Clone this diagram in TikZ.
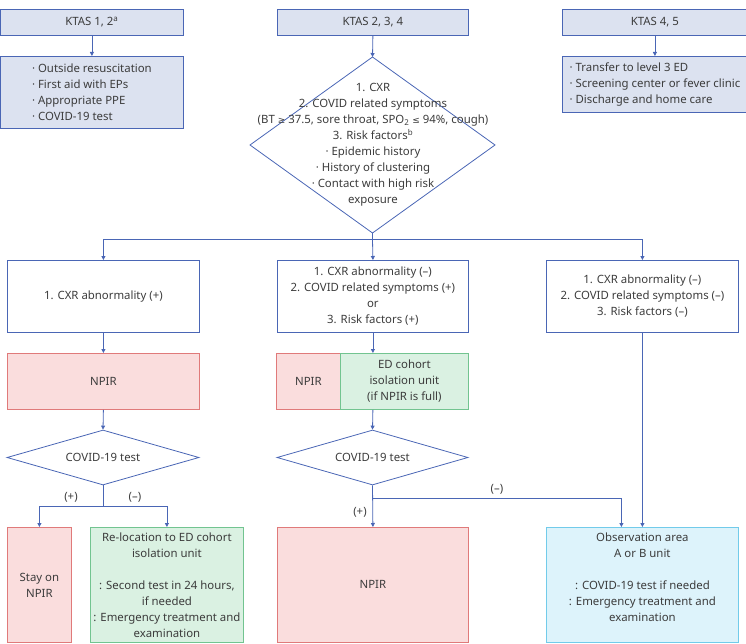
\documentclass[tikz,border=0pt]{standalone}
\usepackage{fontspec}
\setmainfont{Noto Sans}
\newfontfamily\symfont{DejaVu Sans}
\usetikzlibrary{arrows.meta,shapes.geometric}
\definecolor{bline}{HTML}{4A66B5}
\definecolor{topfill}{HTML}{DCE2F0}
\definecolor{pinkfill}{HTML}{FADDDD}
\definecolor{pinkline}{HTML}{E07A7A}
\definecolor{greenfill}{HTML}{DAF1E2}
\definecolor{greenline}{HTML}{72C490}
\definecolor{cyanfill}{HTML}{DDF3FB}
\definecolor{cyanline}{HTML}{72CBEA}
\definecolor{txt}{HTML}{3C3C3C}
\begin{document}
\begin{tikzpicture}[x=1pt,y=-1pt,
  font=\fontsize{11.4}{16}\selectfont, text=txt,
  box/.style={draw=bline, line width=0.8pt, inner sep=0pt, align=center, anchor=north west},
  topbox/.style={box, fill=topfill},
  pinkbox/.style={box, draw=pinkline, fill=pinkfill},
  greenbox/.style={box, draw=greenline, fill=greenfill},
  cyanbox/.style={box, draw=cyanline, fill=cyanfill},
  dia/.style={draw=bline, line width=0.8pt, shape=diamond, aspect=3.5, inner sep=0pt},
  conn/.style={draw=bline, line width=0.8pt},
  arr/.style={conn, -{Triangle[length=4pt,width=4pt]}},
  lbl/.style={inner sep=0pt}]
\useasboundingbox (0,0) rectangle (746,644);

% top row
\node[topbox, minimum width=183pt, minimum height=26pt] (k12) at (0,9) {KTAS 1, 2\textsuperscript{a}};
\node[topbox, minimum width=183pt, minimum height=72pt, align=left] (o12) at (0,56)
  {· Outside resuscitation\\· First aid with EPs\\· Appropriate PPE\\· COVID-19 test};
\node[topbox, minimum width=191pt, minimum height=26pt] (k234) at (277,9) {KTAS 2, 3, 4};
\node[topbox, minimum width=185pt, minimum height=26pt] (k45) at (562,9) {KTAS 4, 5};
\node[topbox, minimum width=185pt, minimum height=56pt, align=left] (o45) at (562,56)
  {· Transfer to level 3 ED\\· Screening center or fever clinic\\· Discharge and home care};

\draw[arr] (k12.south) -- (o12.north);
\draw[arr] (k45.south) -- (o45.north);

% big diamond
\coordinate (dtop) at (372.5,57);
\coordinate (dleft) at (250,145);
\coordinate (dright) at (495,145);
\coordinate (dbot) at (372.5,233);
\draw[conn] (dtop) -- (dright) -- (dbot) -- (dleft) -- cycle;
\node[align=center, inner sep=0pt] (dtext) at (373,145)
  {1. CXR\\2. COVID related symptoms\\(BT {\symfont\small ≥} 37.5, sore throat, SPO\textsubscript{2} {\symfont\small ≤} 94\%, cough)\\3. Risk factors\textsuperscript{b}\\· Epidemic history\\· History of clustering\\· Contact with high risk\\exposure};
\draw[arr] (k234.south) -- (dtop);

% second row
\node[box, minimum width=192pt, minimum height=72pt] (c1) at (7,260) {1. CXR abnormality (+)};
\node[box, minimum width=191pt, minimum height=72pt] (c2) at (277,260)
  {1. CXR abnormality (–)\\2. COVID related symptoms (+)\\or\\3. Risk factors (+)};
\node[box, minimum width=192pt, minimum height=72pt] (c3) at (546,260)
  {1. CXR abnormality (–)\\2. COVID related symptoms (–)\\3. Risk factors (–)};

\coordinate (sp) at (372.5,239);
\draw[conn] (dbot) -- (sp);
\draw[arr] (sp) -| (c1.north);
\draw[arr] (sp) -- (c2.north);
\draw[arr] (sp) -| (c3.north);

% third row
\node[pinkbox, minimum width=192pt, minimum height=56pt] (n1) at (7,353) {NPIR};
\node[pinkbox, minimum width=64pt, minimum height=56pt] (n2) at (276,353) {NPIR};
\node[greenbox, minimum width=128pt, minimum height=56pt] (e2) at (340,353)
  {ED cohort\\isolation unit\\(if NPIR is full)};

\draw[arr] (c1.south) -- (n1.north);
\draw[arr] (c2.south) -- (c2.south |- e2.north);

% test diamonds
\node[dia, minimum width=192pt, minimum height=55pt] (t1) at (103,457.5) {COVID-19 test};
\node[dia, minimum width=191pt, minimum height=55pt] (t2) at (372.5,457.5) {COVID-19 test};
\draw[arr] (n1.south) -- (t1.north);
\draw[arr] (c2.south |- e2.south) -- (t2.north);

% bottom row
\node[pinkbox, minimum width=64pt, minimum height=115pt] (b1) at (7,527) {Stay on\\NPIR};
\node[greenbox, minimum width=153pt, minimum height=115pt] (b2) at (90,527)
  {Re-location to ED cohort\\isolation unit\\[16pt]: Second test in 24 hours,\\if needed\\: Emergency treatment and\\examination};
\node[pinkbox, minimum width=191pt, minimum height=115pt] (b3) at (277,527) {NPIR};
\node[cyanbox, minimum width=192pt, minimum height=115pt] (b4) at (546,527)
  {Observation area\\A or B unit\\[16pt]: COVID-19 test if needed\\: Emergency treatment and\\examination\\\mbox{}};

% left branches
\coordinate (s1) at (103,506);
\draw[conn] (t1.south) -- (s1);
\draw[arr] (s1) -| (b1.north);
\draw[arr] (s1) -| (b2.north);
\node[lbl] (lp1) at (71,497) {(+)};
\node[lbl] (lm1) at (135,497) {(–)};

% middle branches
\coordinate (s2) at (372.5,498);
\draw[arr] (t2.south) -- (b3.north);
\draw[arr] (s2) -| ([xshift=-21pt]b4.north);
\node[lbl] (lm2) at (497,489) {(–)};
\node[lbl] (lp2) at (360,512) {(+)};

% right column
\draw[arr] (c3.south) -- (b4.north);
\end{tikzpicture}
\end{document}
